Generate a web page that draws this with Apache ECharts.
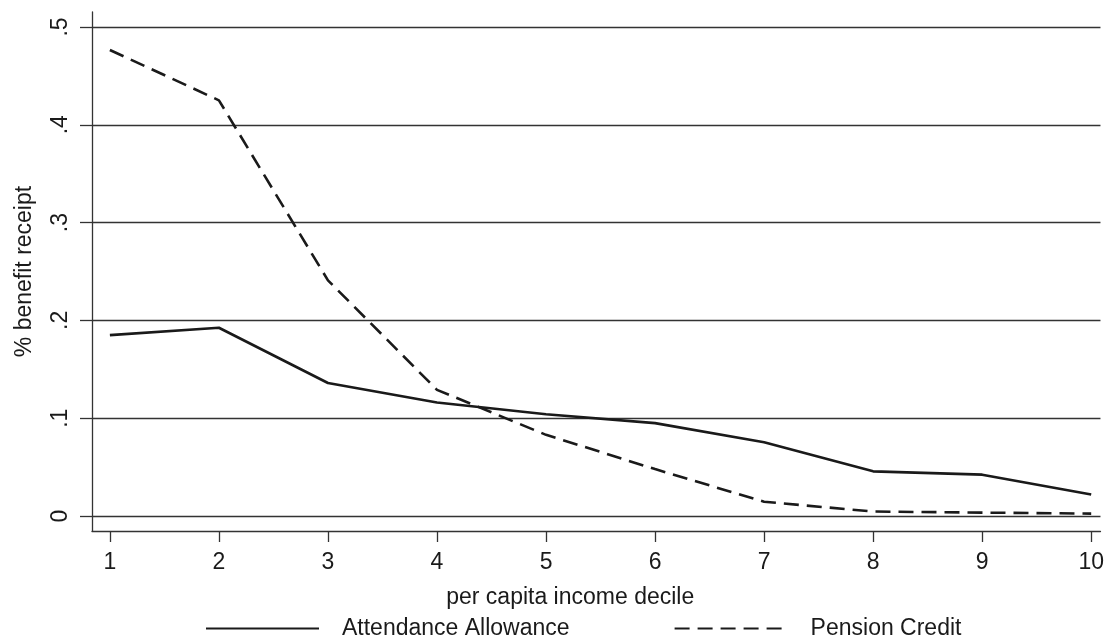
<!DOCTYPE html>
<html><head><meta charset="utf-8">
<script src="https://cdn.jsdelivr.net/npm/echarts@6/dist/echarts.min.js"></script>
<style>html,body{margin:0;padding:0;background:#fff;overflow:hidden}#c{width:1107px;height:639px;display:block}</style>
</head><body><div id="c"></div>
<script>
const deciles = [1,2,3,4,5,6,7,8,9,10];
const attendanceAllowance = [0.185,0.1925,0.136,0.116,0.104,0.095,0.0755,0.0457,0.0423,0.022];
const pensionCredit = [0.4765,0.425,0.241,0.129,0.083,0.048,0.0146,0.0046,0.0035,0.0025];
const yTicks = [0,0.1,0.2,0.3,0.4,0.5];
const seriesNames = ['Attendance Allowance','Pension Credit'];

const font = 'Liberation Sans, Arial, sans-serif';
const ink = '#1a1a1a';
const axisCol = '#333';
const fs = 23;
const chart = echarts.init(document.getElementById('c'), null, {renderer:'canvas'});
chart.setOption({
  animation:false,
  backgroundColor:'#fff',
  grid:{left:92,right:0,top:12,bottom:108,containLabel:false},
  xAxis:{
    type:'value', min:0.836, max:10.085,
    name:'per capita income decile', nameLocation:'middle', nameGap:55,
    nameTextStyle:{fontFamily:font,fontSize:fs,color:ink,padding:[0,52,0,0]},
    axisLine:{show:true,onZero:false,lineStyle:{color:axisCol,width:1.3}},
    axisTick:{show:true,length:11,customValues:deciles,lineStyle:{color:axisCol,width:1.3}},
    axisLabel:{customValues:deciles,margin:20,fontFamily:font,fontSize:fs,color:ink},
    splitLine:{show:false}
  },
  yAxis:{
    type:'value', min:-0.0153, max:0.5153,
    name:'% benefit receipt', nameLocation:'middle', nameGap:56,
    nameTextStyle:{fontFamily:font,fontSize:fs,color:ink},
    axisLine:{show:true,onZero:false,lineStyle:{color:axisCol,width:1.3}},
    axisTick:{show:true,inside:false,length:12,customValues:yTicks,lineStyle:{color:axisCol,width:1.3}},
    axisLabel:{customValues:yTicks,rotate:90,margin:20,fontFamily:font,fontSize:fs,color:ink,
      formatter:v=> v===0 ? '0' : String(v).replace(/^0/,'')},
    splitLine:{show:true,lineStyle:{color:axisCol,width:1.3,type:'solid'}}
  },
  legend:{
    top:617, left:205, padding:0, itemWidth:113, itemHeight:14, itemGap:104,
    itemStyle:{opacity:0},
    textStyle:{fontFamily:font,fontSize:fs,color:ink,padding:[0,0,8,18]},
    data:seriesNames
  },
  series:[
    {name:seriesNames[0],type:'line',data:deciles.map((d,i)=>[d,attendanceAllowance[i]]),
     symbol:'none',lineStyle:{color:ink,width:2.6,type:'solid'},itemStyle:{color:ink}},
    {name:seriesNames[1],type:'line',data:deciles.map((d,i)=>[d,pensionCredit[i]]),
     symbol:'none',lineStyle:{color:ink,width:2.6,type:[15,8]},itemStyle:{color:ink}}
  ]
});
</script></body></html>
